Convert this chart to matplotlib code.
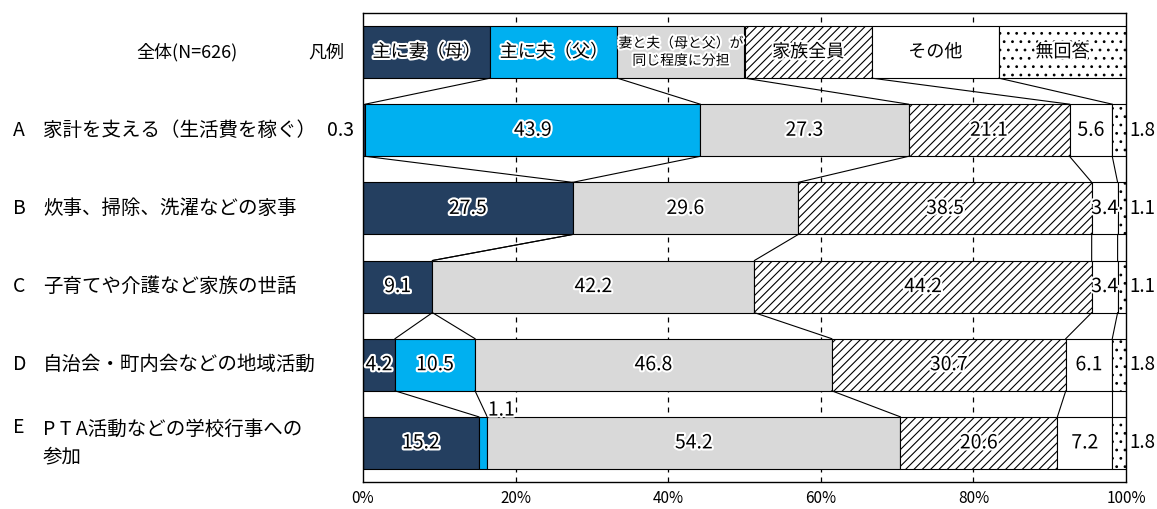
import matplotlib
matplotlib.use("Agg")
from matplotlib import pyplot as plt
from matplotlib import patheffects as pe
import numpy as np

plt.rcParams['font.family'] = ['Noto Sans CJK JP', 'DejaVu Sans']
plt.rcParams['hatch.linewidth'] = 0.8

# categories (legend order)
categories = ['主に妻（母）', '主に夫（父）', '妻と夫（母と父）が\n同じ程度に分担', '家族全員', 'その他', '無回答']
colors = ['#243F60', '#00B0F0', '#D9D9D9', 'white', 'white', 'white']
hatches = [None, None, None, '////', None, '..']

# rows
row_letters = ['A', 'B', 'C', 'D', 'E']
row_labels = ['家計を支える（生活費を稼ぐ）', '炊事、掃除、洗濯などの家事', '子育てや介護など家族の世話',
              '自治会・町内会などの地域活動', 'P T A活動などの学校行事への\n参加']

# percentages per category, rows A..E
wife = [0.3, 27.5, 9.1, 4.2, 15.2]
husband = [43.9, 0.0, 0.0, 10.5, 1.1]
both = [27.3, 29.6, 42.2, 46.8, 54.2]
family = [21.1, 38.5, 44.2, 30.7, 20.6]
other = [5.6, 3.4, 3.4, 6.1, 7.2]
no_answer = [1.8, 1.1, 1.1, 1.8, 1.8]

legend_vals = [1, 1, 1, 1, 1, 1]

data = np.array([legend_vals, *np.array([wife, husband, both, family, other, no_answer]).T], dtype=float)
shares = data / data.sum(axis=1, keepdims=True) * 100
cums = np.cumsum(shares, axis=1)

W, H = 1157, 509
fig = plt.figure(figsize=(W / 100, H / 100), dpi=100)
ax = fig.add_axes([363 / W, 1 - 482 / H, 763 / W, (482 - 13) / H])

bh = 0.667
glow = [pe.withStroke(linewidth=3, foreground='white')]

# gridlines
for gx in [20, 40, 60, 80]:
    ax.axvline(gx, color='black', lw=0.9, ls=(0, (4, 4)), zorder=0)

for i in range(len(shares)):
    left = 0
    for j in range(6):
        w = shares[i, j]
        if w > 0:
            ax.barh(i, w, left=left, height=bh, color=colors[j], edgecolor='black',
                    hatch=hatches[j], lw=0.8, zorder=2)
        left += w

# series connector lines
for i in range(len(shares) - 1):
    for k in range(5):
        ax.plot([cums[i, k], cums[i + 1, k]], [i + bh / 2, i + 1 - bh / 2],
                color='black', lw=0.8, zorder=3)

# legend labels in first bar
for j, name in enumerate(categories):
    x = cums[0, j] - shares[0, j] / 2
    fs = 10 if '\n' in name else 13
    ax.text(x, 0, name, ha='center', va='center', fontsize=fs, linespacing=1.3,
            path_effects=glow, zorder=5)

# value labels
for r in range(5):
    i = r + 1
    for j in range(6):
        v = data[i, j]
        if v == 0:
            continue
        cx = cums[i, j] - shares[i, j] / 2
        txt = f'{v:.1f}'
        if j == 5:
            ax.text(100.5, i, txt, ha='left', va='center', fontsize=13.5, zorder=5, clip_on=False)
        elif i == 1 and j == 0:
            ax.text(-1.2, i, txt, ha='right', va='center', fontsize=14, zorder=5, clip_on=False)
        elif i == 5 and j == 1:
            ax.text(cx + 2.4, i - 0.42, txt, ha='center', va='center', fontsize=14,
                    path_effects=glow, zorder=5)
        else:
            ax.text(cx, i, txt, ha='center', va='center', fontsize=14,
                    path_effects=glow, zorder=5)

# left side labels
tr = ax.get_yaxis_transform()
ax.text((238 - 363) / 763, 0, '全体(N=626)', transform=tr, ha='right', va='center', fontsize=13)
ax.text((344 - 363) / 763, 0, '凡例', transform=tr, ha='right', va='center', fontsize=13)
for r, (letter, lab) in enumerate(zip(row_letters, row_labels)):
    y = r + 1
    if '\n' in lab:
        ax.text((13 - 363) / 763, y - 0.2, letter, transform=tr, ha='left', va='center', fontsize=14)
        ax.text((43 - 363) / 763, y, lab, transform=tr, ha='left', va='center',
                fontsize=14, linespacing=1.4)
    else:
        ax.text((13 - 363) / 763, y, letter, transform=tr, ha='left', va='center', fontsize=14)
        ax.text((43 - 363) / 763, y, lab, transform=tr, ha='left', va='center', fontsize=14)

ax.set_xlim(0, 100)
ax.set_ylim(5.5, -0.5)
ax.set_xticks([0, 20, 40, 60, 80, 100])
ax.set_xticklabels(['0%', '20%', '40%', '60%', '80%', '100%'], fontsize=11)
ax.tick_params(axis='x', length=0, pad=6)
ax.set_yticks([])
for s in ax.spines.values():
    s.set_color('black')
    s.set_linewidth(1)

fig.savefig('out.png', dpi=100)
